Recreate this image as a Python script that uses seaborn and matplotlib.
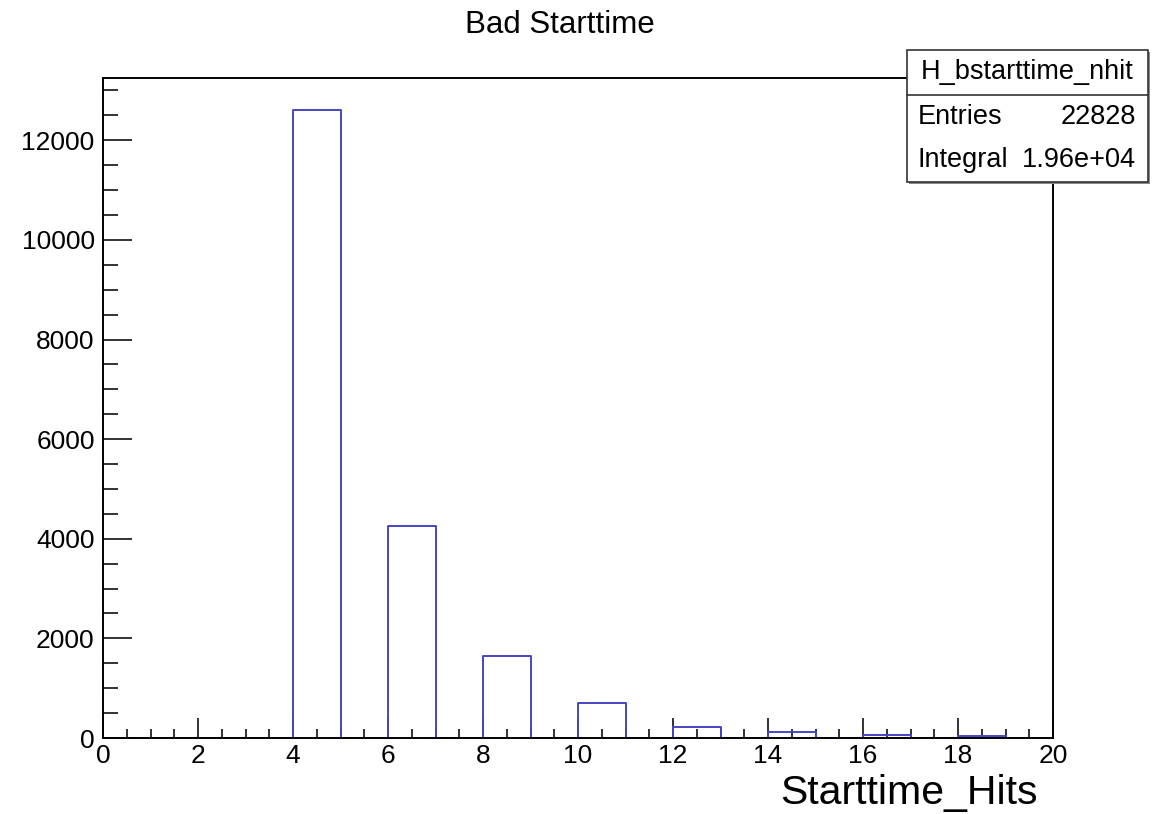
import numpy as np
import pandas as pd
import matplotlib
matplotlib.use("Agg")
import matplotlib.pyplot as plt
from matplotlib.ticker import MultipleLocator
from matplotlib.patches import Rectangle
import seaborn as sns

# Data
bin_left = [4, 6, 8, 10, 12, 14, 16, 18]
counts = [12600, 4250, 1650, 700, 225, 125, 65, 50]
bin_edges = list(range(0, 21))
title = "Bad Starttime"
xlabel = "Starttime_Hits"
hist_name = "H_bstarttime_nhit"
entries = "22828"
integral = "1.96e+04"

sns.set_style("white")
plt.rcParams['font.family'] = ['Liberation Sans', 'DejaVu Sans']
plt.rcParams['text.color'] = 'black'

df = pd.DataFrame({"x": [b + 0.5 for b in bin_left], "w": counts})

fig = plt.figure(figsize=(11.6, 8.14), dpi=100)
ax = fig.add_axes([103/1160, 1 - 738/814, (1053-103)/1160, (738-78)/814])

sns.histplot(data=df, x="x", weights="w", bins=bin_edges, element="step",
             fill=False, color="#4646c3", linewidth=1.4, ax=ax)

ax.set_xlim(0, 20)
ax.set_ylim(0, 13250)
ax.xaxis.set_major_locator(MultipleLocator(2))
ax.xaxis.set_minor_locator(MultipleLocator(0.5))
ax.yaxis.set_major_locator(MultipleLocator(2000))
ax.yaxis.set_minor_locator(MultipleLocator(500))
ax.tick_params(axis='both', which='both', direction='in', top=False, right=False,
               bottom=True, left=True, colors='#222222', labelcolor='black',
               labelsize=19)
ax.tick_params(axis='x', which='major', length=14.5, width=1.3, pad=4)
ax.tick_params(axis='x', which='minor', length=6.5, width=1.3)
ax.tick_params(axis='y', which='major', length=21, width=1.3, pad=6)
ax.tick_params(axis='y', which='minor', length=11, width=1.3)
ax.set_ylabel("")
ax.set_xlabel("")
for s in ax.spines.values():
    s.set_color("black")
    s.set_linewidth(1.4)

fig.text(560/1160, 1 - 25/814, title, ha='center', va='center', fontsize=22.5)
fig.text(1038/1160, 1 - 793/814, xlabel, ha='right', va='center', fontsize=29.5)

# Stats box
bx0, bx1 = 907/1160, 1148/1160
by0, by1 = 1 - 182/814, 1 - 50/814
fig.patches.append(Rectangle((bx0 + 2/1160, by0 - 2/814), bx1 - bx0, by1 - by0,
                             transform=fig.transFigure, facecolor='#888888',
                             edgecolor='none', zorder=9))
fig.patches.append(Rectangle((bx0, by0), bx1 - bx0, by1 - by0,
                             transform=fig.transFigure, facecolor='white',
                             edgecolor='#333333', linewidth=1.2, zorder=10))
sep_y = 1 - 95/814
fig.add_artist(plt.Line2D([bx0, bx1], [sep_y, sep_y], transform=fig.transFigure,
                          color='#333333', linewidth=1.2, zorder=11))
fig.text((bx0 + bx1) / 2, 1 - 72/814, hist_name, ha='center', va='center',
         fontsize=19.5, zorder=12)
fig.text(918/1160, 1 - 117/814, "Entries", ha='left', va='center', fontsize=19.5, zorder=12)
fig.text(1136/1160, 1 - 117/814, entries, ha='right', va='center', fontsize=19.5, zorder=12)
fig.text(918/1160, 1 - 160/814, "Integral", ha='left', va='center', fontsize=19.5, zorder=12)
fig.text(1136/1160, 1 - 160/814, integral, ha='right', va='center', fontsize=19.5, zorder=12)

fig.savefig("out.png", dpi=100)
